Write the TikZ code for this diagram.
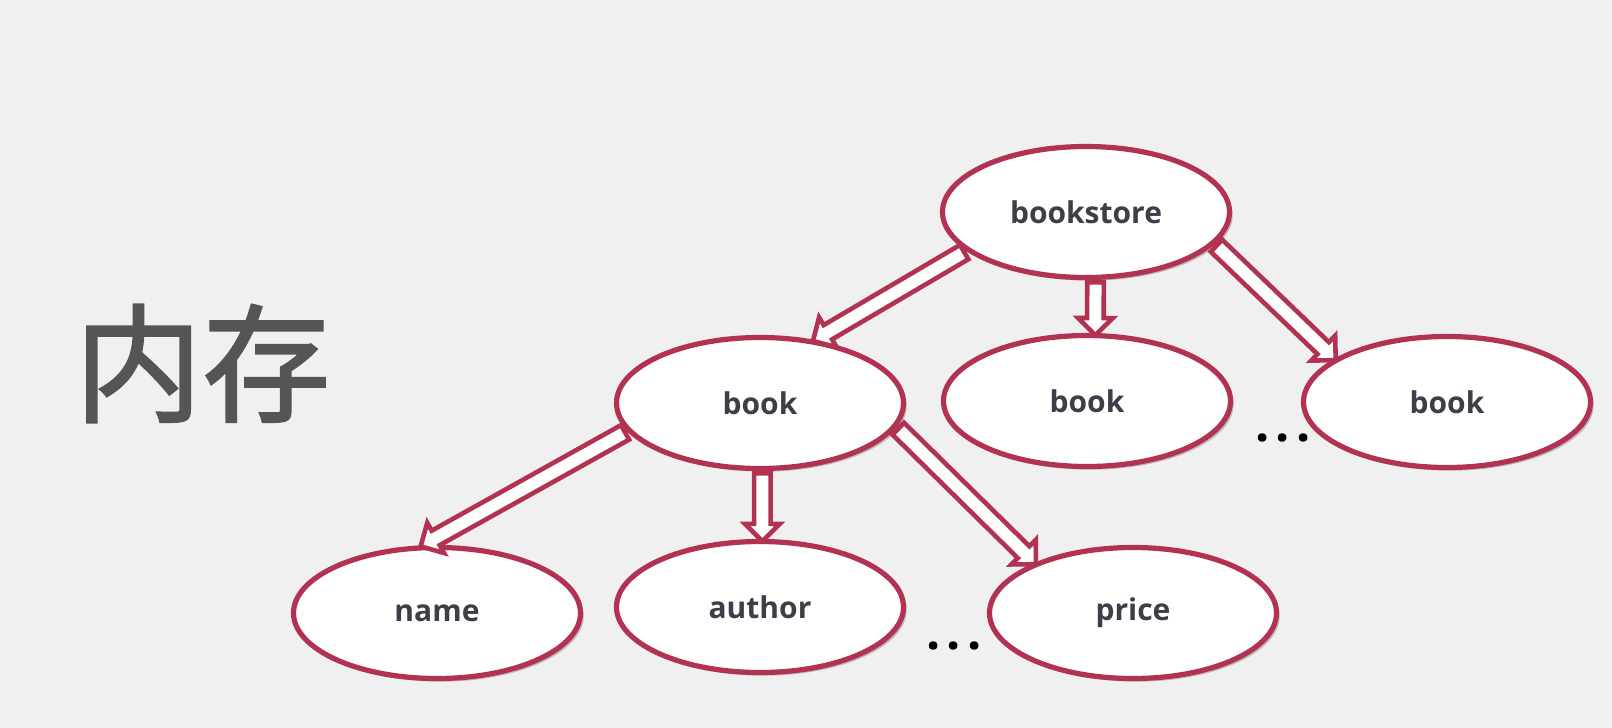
\documentclass[tikz,border=0pt]{standalone}
\usepackage{fontspec}
\newfontfamily\lab{Open Sans}
\newfontfamily\cjk{Noto Sans CJK SC}[RawFeature={embolden=1.6}]
\usetikzlibrary{shapes.geometric,shapes.arrows,calc,shadows}
\definecolor{crim}{RGB}{178,50,82}
\definecolor{bg}{RGB}{240,240,240}
\definecolor{txt}{RGB}{62,62,74}
\definecolor{big}{RGB}{85,85,85}
\tikzset{
  ell/.style={ellipse, draw=crim, line width=2.6pt, fill=white,
    minimum width=143.5pt, minimum height=65.5pt, inner sep=0pt,
    font=\lab\bfseries\fontsize{15}{18}\selectfont, text=txt,
    drop shadow={shadow xshift=1.6pt, shadow yshift=-1.6pt, opacity=0.22, fill=black}},
  arr/.style={single arrow, draw=crim, line width=2.3pt, fill=white,
    inner xsep=0pt, inner ysep=3pt, single arrow head extend=4.5pt,
    single arrow tip angle=90, line join=miter},
  dots/.style={font=\lab\bfseries\fontsize{25}{25}\selectfont, text=black, inner sep=0pt}
}
\newcommand\myarrow[3]{%
  \path let \p1=(#1), \p2=(#2),
    \n1={veclen(\x2-\x1,\y2-\y1)}, \n2={atan2(\y2-\y1,\x2-\x1)} in
    node[arr, minimum height=\n1, rotate=\n2, anchor=tail] (#3) at (\p1) {};}
\begin{document}
\begin{tikzpicture}[x=0.5pt,y=-0.5pt]
\fill[bg] (0,0) rectangle (1612,728);
\useasboundingbox (0,0) rectangle (1612,728);
\node[font=\cjk\fontsize{64}{64}\selectfont, text=big, anchor=base west, inner sep=0pt] (mem) at (74,412) {内存};
\node[ell] (bs) at (1086,212) {bookstore};
\node[ell] (b1) at (760,403) {book};
\node[ell] (b2) at (1087,401) {book};
\node[ell] (b3) at (1447,402) {book};
\node[ell] (nm) at (437,613) {name};
\node[ell] (au) at (760,607) {author};
\node[ell] (pr) at (1133,613) {price};
\node[dots] (d1) at (1283,438) {.\kern3pt.\kern3pt.};
\node[dots] (d2) at (954,646) {.\kern3pt.\kern3pt.};
\myarrow{bs.198}{b1.49}{a1}
\myarrow{bs.-82}{b2.83}{a2}
\myarrow{bs.-14}{b3.159}{a3}
\myarrow{b1.192}{nm.102}{a4}
\myarrow{b1.-88}{au.88}{a5}
\myarrow{b1.-10}{pr.153}{a6}
\end{tikzpicture}
\end{document}
